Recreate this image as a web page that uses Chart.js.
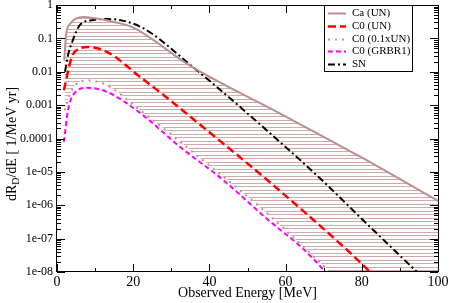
<!DOCTYPE html>
<html>
<head>
<meta charset="utf-8">
<script src="https://cdn.jsdelivr.net/npm/chart.js@4/dist/chart.umd.min.js"></script>
<style>
    html, body { margin: 0; padding: 0; background: #fff; }
    #wrap { width: 450px; height: 303px; position: relative; }
</style>
</head>
<body>
<div id="wrap"><canvas id="chart"></canvas></div>
<script>
// values (energy in MeV, rate in 1/MeV yr)
const caE    = [1.9, 2.4, 3.4, 5, 7, 10, 15, 20, 35, 58.7, 79.7, 100];
const caUN   = [0.022, 0.13, 0.27, 0.39, 0.44, 0.40, 0.31, 0.21, 0.015, 5.5e-4, 2.8e-5, 1.35e-6];

const c0E    = [1.8, 3.9, 6, 8.2, 13.2, 21.8, 29.7, 35, 55.1, 76.1, 82.2];
const c0UN   = [0.0028, 0.028, 0.05, 0.055, 0.039, 0.007, 0.0014, 4.5e-4, 5.8e-6, 4.6e-8, 1e-8];

const c0TenthE = [2.0, 3.9, 6, 8.2, 13.2, 21.8, 29.7, 35, 55.1, 71.8, 82.2, 100];
const c0Tenth  = [7e-4, 0.0028, 0.005, 0.0055, 0.0039, 7e-4, 1.4e-4, 4.5e-5, 5.8e-7, 1e-8, 1e-9, 1e-11];

const grbE   = [1.8, 2.9, 4.2, 7.9, 13.1, 21.8, 32.3, 43.6, 55, 65, 70.5];
const grbr1  = [7.9e-5, 7.2e-4, 0.002, 0.0033, 0.0025, 5.8e-4, 5.6e-5, 5.7e-6, 4e-7, 4.5e-8, 1e-8];

const snE    = [2.1, 2.9, 3.9, 6, 9.5, 13, 22, 35, 58.5, 69.5, 80.3, 94.5];
const sn     = [0.01, 0.032, 0.073, 0.25, 0.355, 0.38, 0.22, 0.016, 7.9e-5, 5.7e-6, 3.6e-7, 1e-8];

const xTicks  = [0, 20, 40, 60, 80, 100];
const yTicks  = [1e-8, 1e-7, 1e-6, 1e-5, 1e-4, 1e-3, 1e-2, 1e-1, 1];
const yLabels = ['1e-08', '1e-07', '1e-06', '1e-05', '0.0001', '0.001', '0.01', '0.1', '1'];

const serif = 'Liberation Serif';

function pairs(xs, ys) {
    return xs.map((x, i) => ({ x: x, y: ys[i] }));
}

function hatchPattern(ctx) {
    const tile = document.createElement('canvas');
    tile.width = 8;
    tile.height = 7;
    const g = tile.getContext('2d');
    g.fillStyle = 'rgba(188,143,143,0.75)';
    g.fillRect(0, 1, 8, 1);
    g.fillRect(0, 4, 8, 1);
    return ctx.createPattern(tile, 'repeat');
}

const canvas = document.getElementById('chart');
const ctx2d = canvas.getContext('2d');

// frame, inward ticks, y title with subscript, boxed legend
const decorations = {
    id: 'decorations',
    afterDraw(chart) {
        const ctx = chart.ctx;
        const a = chart.chartArea;
        const xs = chart.scales.x;
        const ys = chart.scales.y;
        ctx.save();
        ctx.strokeStyle = '#000';
        ctx.lineWidth = 1;
        ctx.strokeRect(Math.round(a.left) - 0.5, Math.round(a.top) + 0.5,
            Math.round(a.right - a.left) + 1, Math.round(a.bottom - a.top) - 1);

        ctx.beginPath();
        for (let v = 0; v <= 100; v += 10) {
            const px = Math.round(xs.getPixelForValue(v)) + 0.5;
            const len = v % 20 === 0 ? 8 : 4;
            ctx.moveTo(px, a.bottom); ctx.lineTo(px, a.bottom - len);
            ctx.moveTo(px, a.top); ctx.lineTo(px, a.top + len);
        }
        for (let e = -8; e <= 0; e++) {
            for (let k = 1; k <= 9; k++) {
                if (e === 0 && k > 1) break;
                const py = Math.round(ys.getPixelForValue(k * Math.pow(10, e))) + 0.5;
                const len = k === 1 ? 8 : 4;
                ctx.moveTo(a.left, py); ctx.lineTo(a.left + len, py);
                ctx.moveTo(a.right, py); ctx.lineTo(a.right - len, py);
            }
        }
        ctx.stroke();

        // y axis title
        ctx.translate(12, 144);
        ctx.rotate(-Math.PI / 2);
        ctx.fillStyle = '#000';
        ctx.textBaseline = 'middle';
        const parts = [['dR', 14, 0], ['D', 10, 4], ['/dE [ 1/MeV yr]', 14, 0]];
        let total = 0;
        parts.forEach(p => { ctx.font = p[1] + 'px "' + serif + '"'; total += ctx.measureText(p[0]).width; });
        let cx = -total / 2;
        parts.forEach(p => {
            ctx.font = p[1] + 'px "' + serif + '"';
            ctx.fillText(p[0], cx, p[2]);
            cx += ctx.measureText(p[0]).width;
        });
        ctx.restore();

        // legend
        ctx.save();
        ctx.strokeStyle = '#000';
        ctx.lineWidth = 1;
        ctx.fillStyle = '#fff';
        ctx.fillRect(324, 5, 88, 66);
        ctx.strokeRect(324.5, 5.5, 88, 66);
        ctx.font = '11px "' + serif + '"';
        ctx.textBaseline = 'middle';
        chart.data.datasets.forEach((ds, i) => {
            const y = Math.round(13 + i * 12.8) + 0.5;
            ctx.strokeStyle = ds.borderColor;
            ctx.lineWidth = ds.borderWidth;
            ctx.setLineDash(ds.borderDash || []);
            ctx.beginPath();
            ctx.moveTo(328, y);
            ctx.lineTo(346, y);
            ctx.stroke();
            ctx.setLineDash([]);
            ctx.fillStyle = '#000';
            ctx.fillText(ds.label, 352, y);
        });
        ctx.restore();
    }
};

const chart = new Chart(canvas, {
    type: 'line',
    data: {
        datasets: [
            {
                label: 'Ca (UN)',
                data: pairs(caE, caUN),
                borderColor: '#bc8f8f',
                borderWidth: 2,
                backgroundColor: hatchPattern(ctx2d),
                fill: 2
            },
            {
                label: 'C0 (UN)',
                data: pairs(c0E, c0UN),
                borderColor: '#ff0000',
                borderWidth: 2.5,
                borderDash: [8, 4],
                fill: false
            },
            {
                label: 'C0 (0.1xUN)',
                data: pairs(c0TenthE, c0Tenth),
                borderColor: '#bc8f8f',
                borderWidth: 2,
                borderDash: [2, 5],
                fill: false
            },
            {
                label: 'C0 (GRBR1)',
                data: pairs(grbE, grbr1),
                borderColor: '#ff00ff',
                borderWidth: 2,
                borderDash: [5, 3],
                fill: false
            },
            {
                label: 'SN',
                data: pairs(snE, sn),
                borderColor: '#000000',
                borderWidth: 2,
                borderDash: [7, 3, 2, 3],
                fill: false
            }
        ]
    },
    options: {
        responsive: true,
        maintainAspectRatio: false,
        animation: false,
        layout: { padding: { top: 5, right: 12, left: 0, bottom: 0 } },
        elements: {
            point: { radius: 0 },
            line: { cubicInterpolationMode: 'monotone' }
        },
        plugins: {
            legend: { display: false },
            tooltip: { enabled: false },
            filler: { drawTime: 'beforeDatasetsDraw' }
        },
        scales: {
            x: {
                type: 'linear',
                min: 0,
                max: 100,
                afterBuildTicks: s => { s.ticks = xTicks.map(v => ({ value: v })); },
                afterFit: s => { s.height = 31; s.paddingLeft = 0; s.paddingRight = 0; },
                grid: { display: false, drawTicks: false },
                border: { display: false },
                ticks: {
                    autoSkip: false,
                    maxRotation: 0,
                    padding: 2,
                    color: '#000',
                    font: { family: serif, size: 14 },
                    callback: v => String(v)
                },
                title: {
                    display: true,
                    text: 'Observed Energy [MeV]',
                    color: '#000',
                    font: { family: serif, size: 14 },
                    padding: { top: 0, bottom: 1 }
                }
            },
            y: {
                type: 'logarithmic',
                min: 1e-8,
                max: 1,
                afterBuildTicks: s => { s.ticks = yTicks.map(v => ({ value: v })); },
                afterFit: s => { s.width = 57; s.paddingTop = 0; s.paddingBottom = 0; },
                grid: { display: false, drawTicks: false },
                border: { display: false },
                ticks: {
                    autoSkip: false,
                    padding: 4,
                    color: '#000',
                    font: { family: serif, size: 12 },
                    callback: (v, i) => yLabels[i]
                }
            }
        }
    },
    plugins: [decorations]
});
</script>
</body>
</html>
